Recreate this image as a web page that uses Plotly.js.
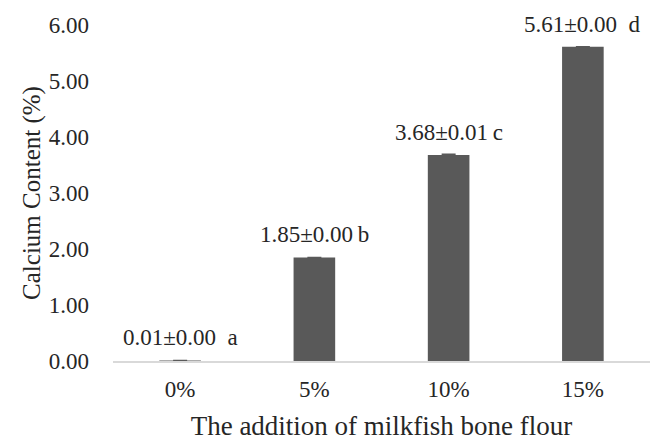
<!DOCTYPE html>
<html>
<head>
<meta charset="utf-8">
<script src="https://cdn.plot.ly/plotly-3.0.1.min.js"></script>
<style>html,body{margin:0;padding:0;background:#fff}#chart{width:656px;height:441px}</style>
</head>
<body>
<div id="chart"></div>
<script>
const categories = ["0%", "5%", "10%", "15%"];
const calcium = [0.01, 1.85, 3.68, 5.61];
const sd = [0.00, 0.00, 0.01, 0.00];
const letters = ["a", "b", "c", "d"];
const letterGaps = ["\u2002", "\u2009", "\u2009", "\u2002"];
const yTicks = [0, 1, 2, 3, 4, 5, 6];

const serif = "'Liberation Serif', 'DejaVu Serif', serif";
const labels = calcium.map((v, i) => v.toFixed(2) + "±" + sd[i].toFixed(2) + letterGaps[i] + letters[i]);

const trace = {
  type: "bar",
  x: categories,
  y: calcium,
  marker: {color: "#595959"},
  error_y: {type: "data", array: sd, visible: true, color: "#595959", thickness: 1.5, width: 7},
  hoverinfo: "none"
};

const annotations = categories.map((c, i) => ({
  x: c, y: calcium[i], xref: "x", yref: "y",
  text: labels[i], showarrow: false, yanchor: "bottom", yshift: 8,
  font: {family: serif, size: 23, color: "#262626"}
}));

const layout = {
  width: 656, height: 441,
  margin: {l: 113, r: 6, t: 25, b: 80},
  paper_bgcolor: "#fff", plot_bgcolor: "#fff",
  bargap: 0.69,
  showlegend: false,
  font: {family: serif, color: "#262626"},
  xaxis: {
    type: "category",
    showline: true, linecolor: "#d9d9d9", linewidth: 1.5,
    showgrid: false, zeroline: false, ticks: "",
    tickfont: {family: serif, size: 23, color: "#262626"},
    ticklabelstandoff: 7,
    title: {text: "The addition of milkfish bone flour", font: {family: serif, size: 27, color: "#262626"}, standoff: 17}
  },
  yaxis: {
    range: [0, 6],
    tickvals: yTicks,
    ticktext: yTicks.map(v => v.toFixed(2)),
    showline: false, showgrid: false, zeroline: false, ticks: "",
    tickfont: {family: serif, size: 23, color: "#262626"},
    ticklabelstandoff: 23,
    title: {text: "Calcium Content (%)", font: {family: serif, size: 25, color: "#262626"}, standoff: 1}
  },
  annotations: annotations
};

Plotly.newPlot("chart", [trace], layout, {displayModeBar: false, staticPlot: true});
</script>
</body>
</html>
